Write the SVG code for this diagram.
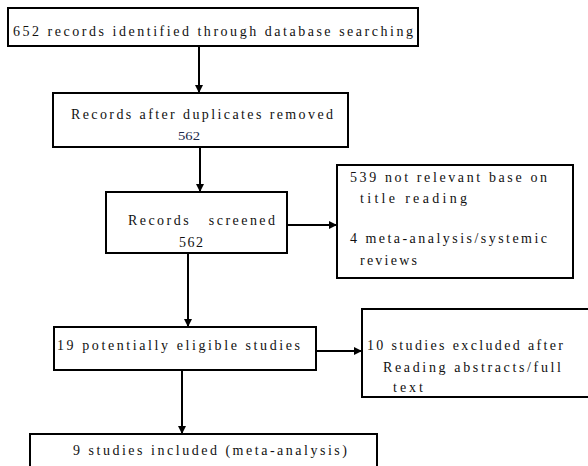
<svg xmlns="http://www.w3.org/2000/svg" width="588" height="466" viewBox="0 0 588 466">
<style>
.box{fill:#fff;stroke:#000;stroke-width:2}
.t{font-family:"Liberation Serif",serif;font-size:14px;fill:#111;white-space:pre}
.p{font-family:"Liberation Serif",serif;font-size:14px;fill:#111;white-space:pre}
.n{font-family:"Liberation Serif",serif;font-size:13px;fill:#1c2a4a}
.c{stroke:#000;stroke-width:2;fill:none;marker-end:url(#ah)}
</style>
<defs>
<marker id="ah" viewBox="0 0 10 10" refX="10" refY="5" markerWidth="4" markerHeight="4" orient="auto" markerUnits="strokeWidth">
<path d="M0,0 L10,5 L0,10 z" fill="#000"/>
</marker>
</defs>
<rect width="588" height="466" fill="#fff"/>
<g id="connectors">
<line class="c" x1="199" y1="47" x2="199" y2="93"/>
<line class="c" x1="200" y1="147" x2="200" y2="192"/>
<line class="c" x1="288" y1="225" x2="337" y2="225"/>
<line class="c" x1="188" y1="254" x2="188" y2="327"/>
<line class="c" x1="317" y1="351" x2="362" y2="351"/>
<line class="c" x1="182" y1="371" x2="182" y2="434"/>
</g>
<g id="n1">
<rect class="box" x="8" y="8" width="410" height="38"/>
<text class="t" x="13" y="36" textLength="400" lengthAdjust="spacing">652 records identified through database searching</text>
</g>
<g id="n2">
<rect class="box" x="53" y="93" width="295" height="54"/>
<text class="t" x="71" y="119" textLength="262" lengthAdjust="spacing">Records after duplicates removed</text>
<text class="n" x="178" y="140" textLength="22" lengthAdjust="spacingAndGlyphs">562</text>
</g>
<g id="n3">
<rect class="box" x="106" y="192" width="181" height="61"/>
<text class="t" x="128" y="225" textLength="147" lengthAdjust="spacing">Records   screened</text>
<text class="t" x="179" y="247" textLength="24" lengthAdjust="spacing">562</text>
</g>
<g id="n4">
<rect class="box" x="337" y="165" width="236" height="113"/>
<text class="t" x="350" y="182" textLength="197" lengthAdjust="spacing">539 not relevant base on</text>
<text class="t" x="360" y="203" textLength="107" lengthAdjust="spacing">title reading</text>
<text class="t" x="350" y="243" textLength="197" lengthAdjust="spacing">4 meta-analysis/systemic</text>
<text class="t" x="360" y="265" textLength="57" lengthAdjust="spacing">reviews</text>
</g>
<g id="n5">
<rect class="box" x="54" y="327" width="262" height="43"/>
<text class="p" x="57" y="350" textLength="243" lengthAdjust="spacing">19 potentially eligible studies</text>
</g>
<g id="n6">
<rect class="box" x="362" y="309" width="230" height="88"/>
<text class="p" x="367" y="350" textLength="196" lengthAdjust="spacing">10 studies excluded after</text>
<text class="p" x="383" y="372" textLength="178" lengthAdjust="spacing">Reading abstracts/full</text>
<text class="p" x="393" y="392" textLength="30" lengthAdjust="spacing">text</text>
</g>
<g id="n7">
<rect class="box" x="30" y="434" width="347" height="40"/>
<text class="t" x="73" y="455" textLength="274" lengthAdjust="spacing">9 studies included (meta-analysis)</text>
</g>
</svg>
